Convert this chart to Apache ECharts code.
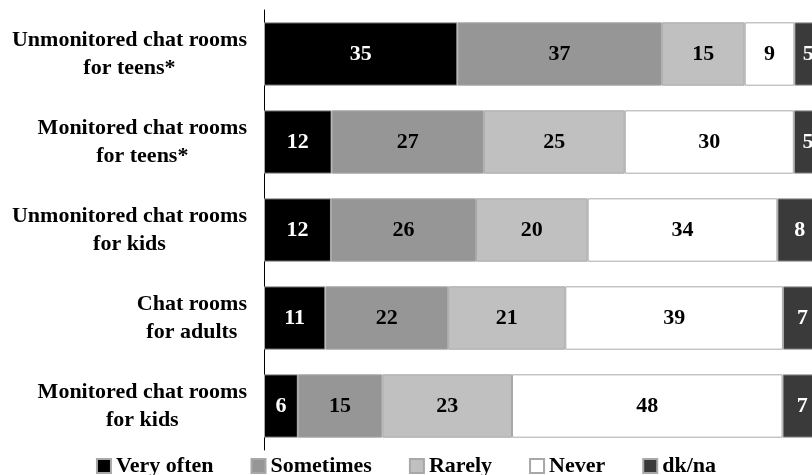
<!DOCTYPE html>
<html>
<head>
<meta charset="utf-8">
<script src="https://cdn.jsdelivr.net/npm/echarts@6/dist/echarts.min.js"></script>
<style>
html,body{margin:0;padding:0;background:#fff;}
#chart{width:812px;height:475px;}
</style>
</head>
<body>
<div id="chart"></div>
<script>
var categories = [
  'Unmonitored chat rooms\nfor teens*',
  'Monitored chat rooms\nfor teens*',
  'Unmonitored chat rooms\nfor kids',
  'Chat rooms\nfor adults',
  'Monitored chat rooms\nfor kids'
];
var seriesNames = ['Very often', 'Sometimes', 'Rarely', 'Never', 'dk/na'];
var veryOften = [35, 12, 12, 11, 6];
var sometimes = [37, 27, 26, 22, 15];
var rarely    = [15, 25, 20, 21, 23];
var never     = [9, 30, 34, 39, 48];
var dkna      = [5, 5, 8, 7, 7];

var allValues = [veryOften, sometimes, rarely, never, dkna];
var colors = ['#000000', '#969696', '#c0c0c0', '#ffffff', '#3a3a3a'];
var labelColors = ['#ffffff', '#000000', '#000000', '#000000', '#ffffff'];
var FONT = '"Liberation Serif", "Times New Roman", serif';

var totals = categories.map(function (c, i) {
  return allValues.reduce(function (s, arr) { return s + arr[i]; }, 0);
});

var series = allValues.map(function (arr, k) {
  return {
    name: seriesNames[k],
    type: 'bar',
    stack: 'total',
    barCategoryGap: '28%',
    itemStyle: { color: colors[k], borderColor: '#a8a8a8', borderWidth: 1 },
    label: {
      show: true,
      position: 'inside',
      color: labelColors[k],
      fontFamily: FONT,
      fontWeight: 'bold',
      fontSize: 22,
      formatter: function (p) { return p.data.raw; }
    },
    emphasis: { disabled: true },
    data: arr.map(function (v, i) { return { value: v / totals[i] * 100, raw: v }; })
  };
});

var chart = echarts.init(document.getElementById('chart'));
chart.setOption({
  animation: false,
  backgroundColor: '#ffffff',
  grid: { left: 264, top: 10, width: 558, height: 440, outerBoundsMode: 'none', containLabel: false },
  xAxis: { type: 'value', min: 0, max: 100, show: false },
  yAxis: {
    type: 'category',
    inverse: true,
    data: categories,
    axisLine: { show: true, lineStyle: { color: '#000', width: 1 } },
    axisTick: { show: false },
    axisLabel: {
      margin: 17,
      align: 'right',
      formatter: function (v) {
        return v.split('\n').map(function (s) { return '{a|' + s + '}'; }).join('\n');
      },
      rich: {
        a: {
          align: 'center',
          fontFamily: FONT,
          fontWeight: 'bold',
          fontSize: 22,
          lineHeight: 28,
          color: '#000'
        }
      }
    }
  },
  legend: {
    left: 'center',
    top: 450,
    icon: 'rect',
    itemWidth: 14,
    itemHeight: 14,
    itemGap: 37,
    selectedMode: false,
    textStyle: { fontFamily: FONT, fontWeight: 'bold', fontSize: 22, color: '#000' },
    data: seriesNames
  },
  series: series
});
</script>
</body>
</html>
